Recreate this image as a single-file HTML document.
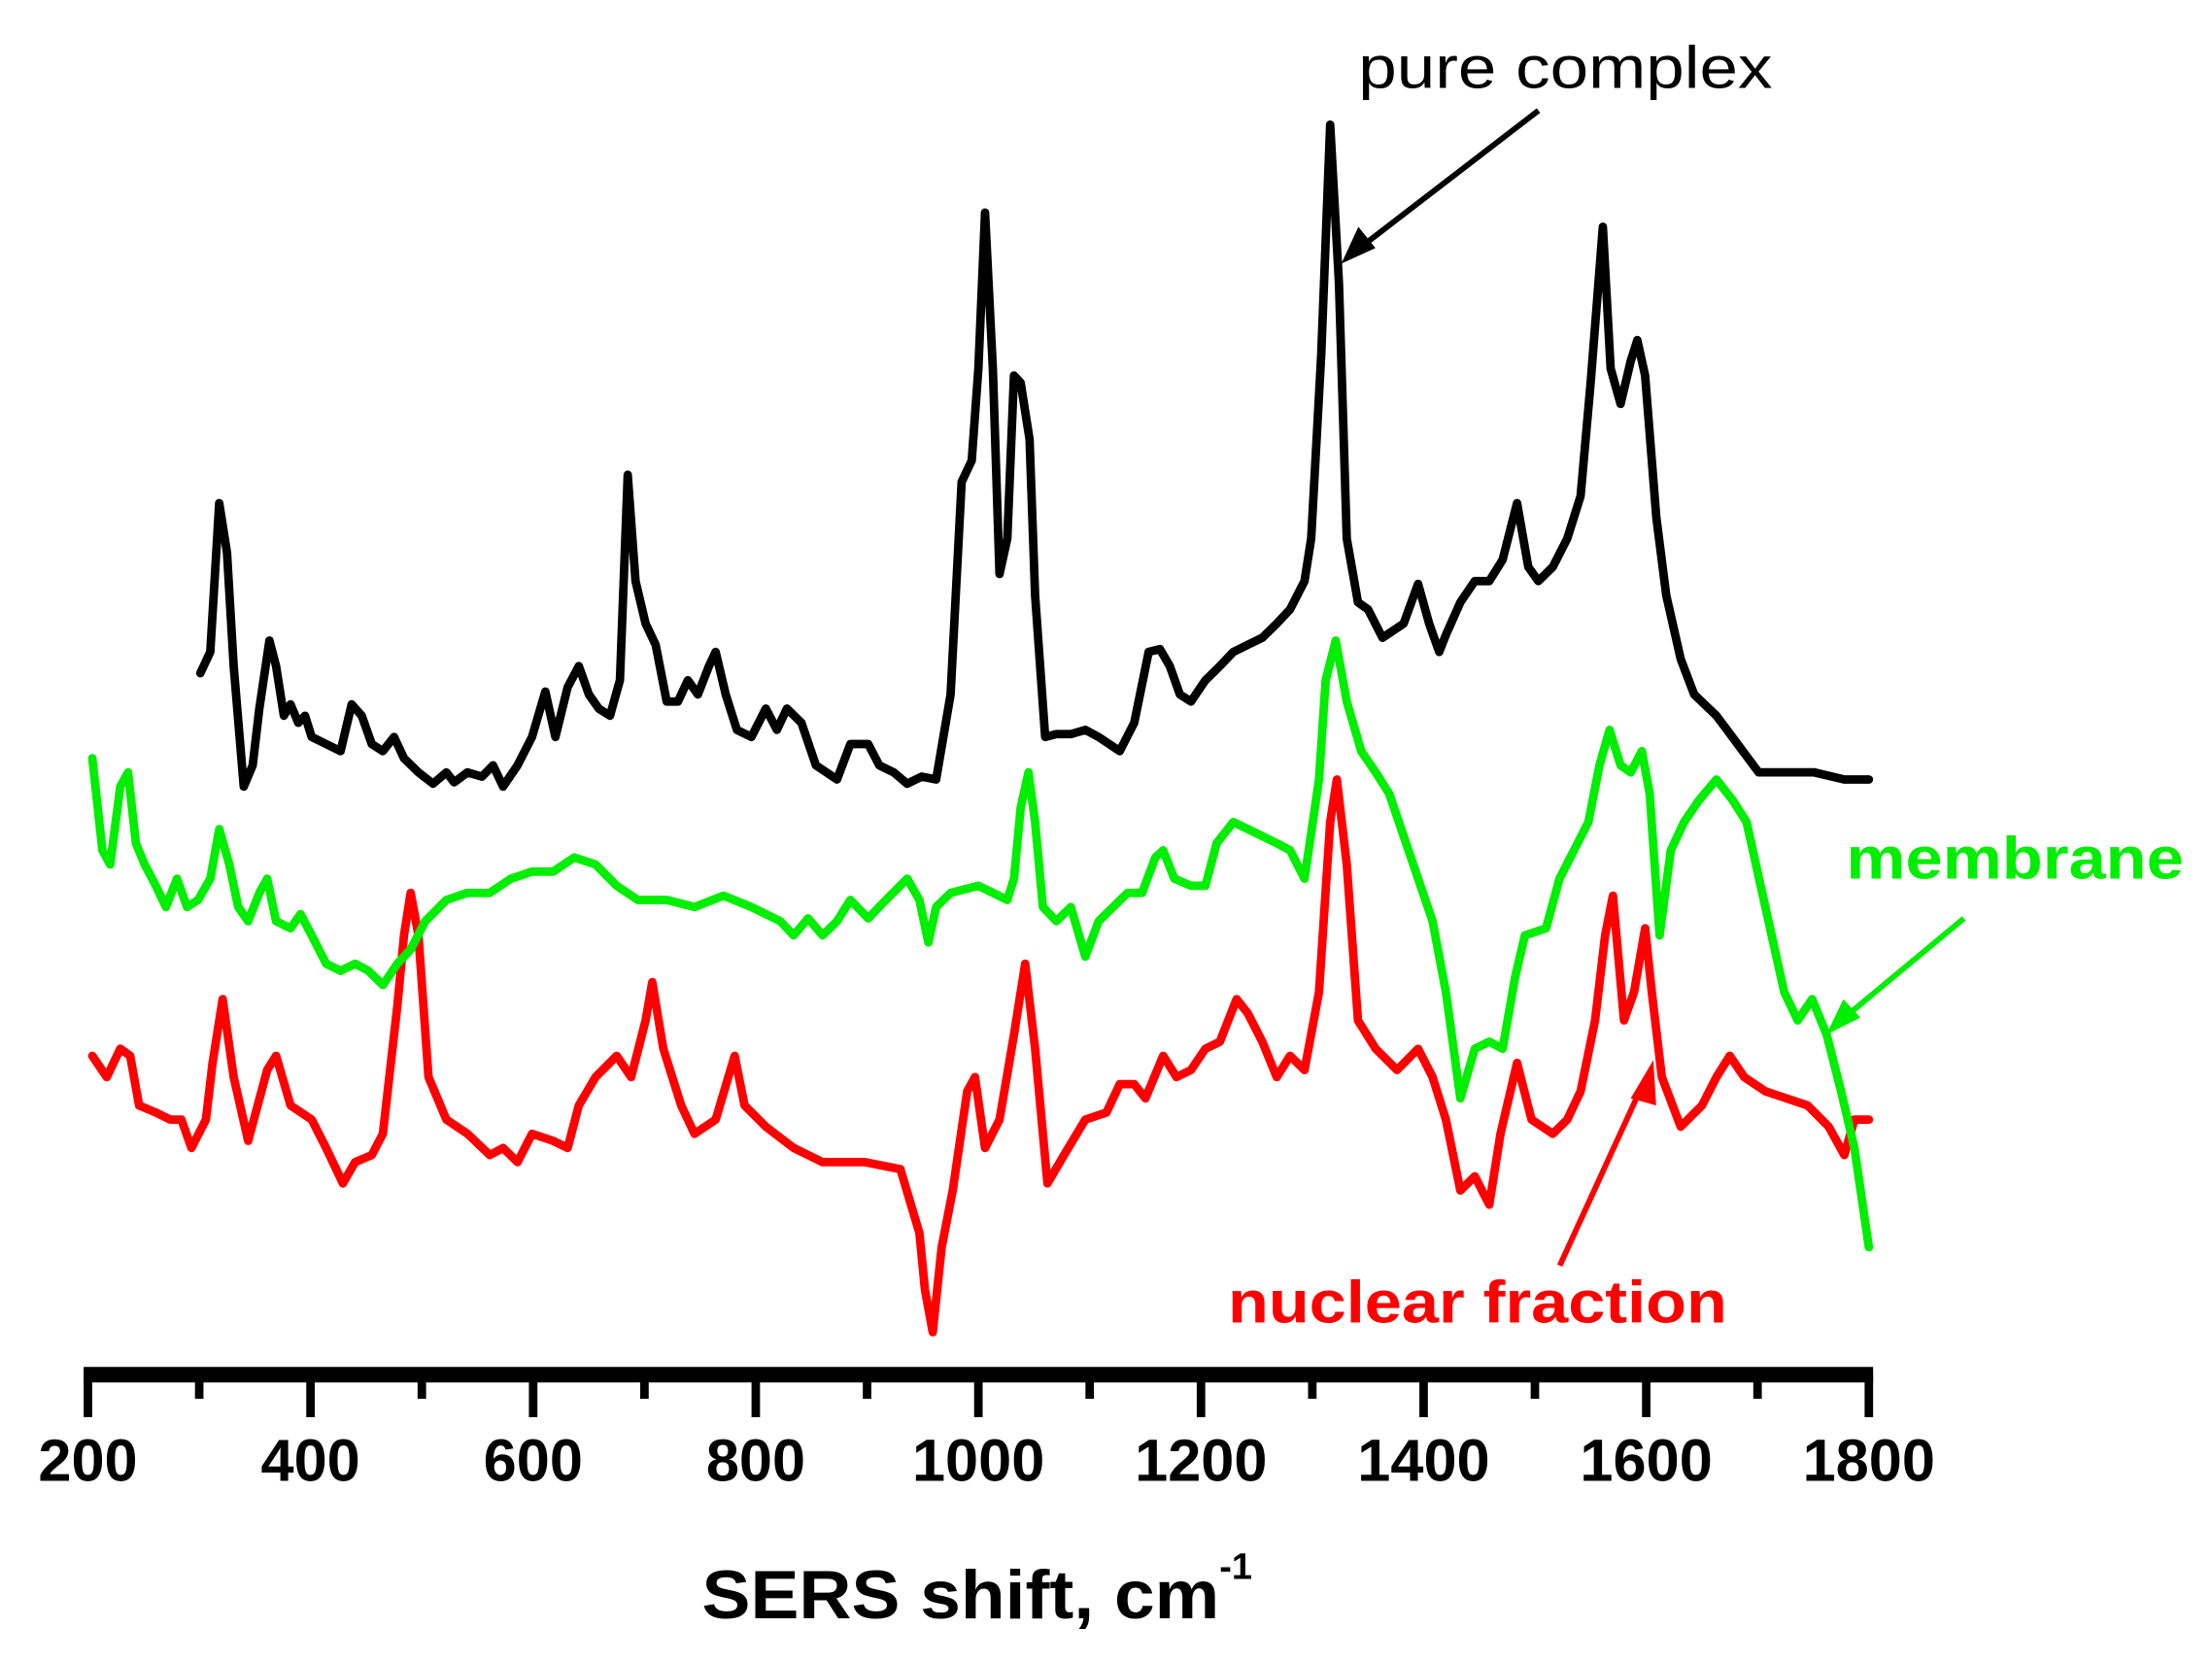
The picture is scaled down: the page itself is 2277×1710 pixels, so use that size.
<!DOCTYPE html>
<html><head><meta charset="utf-8"><style>
html,body{margin:0;padding:0;background:#fff;}
svg{display:block;}
text{font-family:"Liberation Sans",Arial,sans-serif;}
</style></head><body>
<svg id="chart" width="2277" height="1710" viewBox="0 0 1560 1172" preserveAspectRatio="none" xmlns="http://www.w3.org/2000/svg">
<g id="series"></g>
<g id="axis"></g>
<text x="958" y="62" font-size="42" fill="#000" textLength="292" lengthAdjust="spacingAndGlyphs">pure complex</text>
<line x1="1085" y1="78" x2="955" y2="178" stroke="#000" stroke-width="4"/>
<polygon points="946,186 958,160 970,175" fill="#000"/>
<text x="1302" y="620" font-size="42" font-weight="bold" fill="#00ee00" textLength="238" lengthAdjust="spacingAndGlyphs">membrane</text>
<line x1="1385" y1="648" x2="1296" y2="722" stroke="#00ee00" stroke-width="4"/>
<polygon points="1288,730 1300,705 1312,718" fill="#00ee00"/>
<text x="866" y="933" font-size="42" font-weight="bold" fill="#ff0000" textLength="352" lengthAdjust="spacingAndGlyphs">nuclear fraction</text>
<line x1="1100" y1="893" x2="1160" y2="762" stroke="#ff0000" stroke-width="4"/>
<polygon points="1166,748 1150,775 1168,780" fill="#ff0000"/>
<text x="495" y="1142" font-size="48" font-weight="bold"><tspan textLength="365" lengthAdjust="spacingAndGlyphs">SERS shift, cm</tspan><tspan dy="-28" font-size="26">-1</tspan></text>
</svg>
<script>
const blackShift=[301,310,318,325,331,340,348,354,363,369,376,382,389,395,401,414,427,437,446,455,465,475,484,497,510,522,529,541,554,564,573,586,599,611,620,631,641,650,659,669,678,685,692,701,710,720,730,739,748,758,764,773,783,796,809,819,828,841,854,873,885,901,911,924,936,949,962,975,985,994,1000,1006,1013,1019,1026,1032,1038,1046,1051,1060,1070,1083,1096,1108,1127,1140,1153,1163,1172,1181,1191,1204,1217,1229,1242,1255,1268,1280,1293,1299,1308,1316,1324,1331,1341,1350,1363,1382,1395,1405,1414,1420,1433,1446,1459,1471,1484,1494,1503,1516,1529,1541,1550,1561,1568,1577,1586,1592,1599,1609,1618,1631,1643,1663,1682,1701,1726,1751,1778,1800];
const blackVals=[525,540,645,610,530,445,460,500,548,530,495,503,490,495,480,475,470,503,495,475,470,480,465,455,447,455,448,455,452,460,445,460,480,512,480,515,530,510,500,495,520,665,590,560,545,505,505,520,510,530,540,510,485,480,500,485,500,490,460,450,475,475,460,455,447,452,450,510,660,675,740,850,740,595,620,735,730,690,580,480,482,482,485,480,470,490,540,542,530,510,505,520,530,540,545,550,560,570,590,620,750,912,800,620,575,570,550,560,588,560,540,552,575,590,590,605,645,600,590,600,620,650,730,840,740,715,745,760,735,635,580,535,510,495,475,455,455,455,450,450];
const greenShift=[204,213,220,229,236,243,251,261,270,280,289,299,310,318,327,335,344,354,361,369,382,391,401,414,427,440,452,465,478,490,503,522,541,561,580,599,618,637,656,675,694,720,745,771,796,822,834,847,860,873,885,901,917,936,947,955,962,975,1000,1026,1032,1038,1045,1051,1058,1070,1083,1096,1108,1121,1134,1147,1159,1166,1176,1191,1204,1214,1229,1242,1255,1268,1280,1293,1306,1312,1321,1331,1344,1357,1369,1382,1395,1408,1420,1433,1446,1459,1471,1482,1491,1510,1522,1535,1548,1558,1567,1577,1586,1596,1603,1612,1622,1634,1647,1663,1678,1690,1707,1724,1736,1749,1762,1775,1787,1800];
const greenVals=[465,400,390,445,455,405,390,375,360,380,360,365,380,415,390,360,350,370,380,350,345,355,340,320,315,320,315,305,320,330,350,365,370,370,380,385,385,395,390,375,365,365,360,368,360,350,340,352,340,350,365,352,365,380,365,335,360,370,375,365,380,430,455,420,360,350,360,325,350,360,370,370,395,400,380,375,375,405,420,415,410,405,400,380,450,520,548,505,470,455,440,410,380,350,300,225,260,265,260,310,340,345,380,400,420,460,485,460,455,470,440,340,400,420,435,450,435,420,360,300,280,295,270,230,190,120];
const redShift=[204,217,229,238,246,261,274,284,293,306,312,321,331,344,361,369,382,401,414,429,440,455,465,478,484,490,497,506,522,541,561,573,586,599,618,631,641,656,675,688,701,707,717,733,745,764,781,790,809,834,860,898,930,947,952,959,967,977,990,997,1006,1019,1032,1042,1051,1062,1077,1096,1115,1127,1140,1150,1166,1178,1191,1204,1217,1232,1242,1255,1268,1280,1293,1306,1316,1322,1331,1341,1357,1376,1395,1408,1420,1433,1446,1459,1469,1484,1497,1516,1529,1541,1554,1563,1570,1580,1589,1599,1605,1614,1631,1650,1663,1675,1688,1707,1726,1745,1764,1778,1787,1800];
const redVals=[255,240,260,255,220,215,210,210,190,210,250,295,240,195,245,255,220,210,190,165,180,185,200,290,340,370,340,240,210,200,185,190,180,200,195,190,220,240,255,240,280,307,260,220,200,210,255,220,205,190,180,180,175,130,90,60,120,160,230,240,190,210,270,320,260,165,185,210,215,235,235,225,255,240,245,260,265,295,285,265,240,255,245,300,420,450,390,280,260,245,260,240,210,160,170,150,200,250,210,200,210,230,280,340,368,280,300,345,300,240,205,220,240,255,240,230,225,220,205,185,210,210];
const NS='http://www.w3.org/2000/svg';
function xs(c){return 62+(c-200)*(1318-62)/1600;}
function ys(v){return 1000-v;}
const seriesG=document.getElementById('series');
function drawSeries(sh,vals,color,name){
  const p=document.createElementNS(NS,'path');
  let d='';
  for(let i=0;i<sh.length;i++){d+=(i?'L':'M')+xs(sh[i]).toFixed(1)+','+ys(vals[i]).toFixed(1);}
  p.setAttribute('d',d);p.setAttribute('fill','none');p.setAttribute('stroke',color);
  p.setAttribute('stroke-width','6');p.setAttribute('stroke-linejoin','round');p.setAttribute('stroke-linecap','round');
  
  
  seriesG.appendChild(p);
}
drawSeries(redShift,redVals,'#ff0000','nuclear-fraction-line');
drawSeries(greenShift,greenVals,'#00ee00','membrane-line');
drawSeries(blackShift,blackVals,'#000000','pure-complex-line');
const axisG=document.getElementById('axis');
const tickVals=[200,300,400,500,600,700,800,900,1000,1100,1200,1300,1400,1500,1600,1700,1800];
const tickLabels=['200','400','600','800','1000','1200','1400','1600','1800'];
const labelVals=[200,400,600,800,1000,1200,1400,1600,1800];
const base=document.createElementNS(NS,'line');
base.setAttribute('x1',xs(200)-3);base.setAttribute('x2',xs(1800)+3);base.setAttribute('y1',970);base.setAttribute('y2',970);
base.setAttribute('stroke','#000');base.setAttribute('stroke-width','11');


axisG.appendChild(base);
tickVals.forEach(function(t,i){
  const l=document.createElementNS(NS,'line');
  const major=(i%2===0);
  l.setAttribute('x1',xs(t));l.setAttribute('x2',xs(t));l.setAttribute('y1',970);l.setAttribute('y2',major?1000:987);
  l.setAttribute('stroke','#000');l.setAttribute('stroke-width','6');
  
  
  axisG.appendChild(l);
});
labelVals.forEach(function(t,i){
  const tx=document.createElementNS(NS,'text');
  tx.setAttribute('x',xs(t));tx.setAttribute('y',1045);tx.setAttribute('text-anchor','middle');
  tx.setAttribute('font-size','42');tx.setAttribute('font-weight','bold');
  tx.textContent=tickLabels[i];
  
  
  axisG.appendChild(tx);
});
</script>
</body></html>
